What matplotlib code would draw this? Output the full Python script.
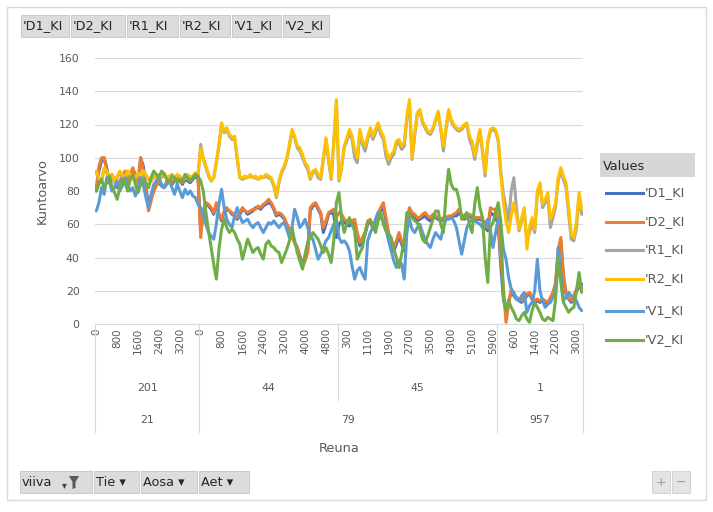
import matplotlib
matplotlib.use('Agg')
import matplotlib.pyplot as plt
import matplotlib.transforms as mtransforms
from matplotlib.patches import Rectangle, Polygon

W, H = 713, 512

# pivot axis fields: Aet > Tie > Reuna
tie = ['201', '44', '45', '1']
aet = ['21', '79', '957']
aet_span = [1, 2, 1]  # number of Tie groups under each Aet
reuna = [list(range(0, 4000, 100)), list(range(0, 5300, 100)),
         list(range(0, 6100, 100)), list(range(0, 3300, 100))]

series_names = ["'D1_KI", "'D2_KI", "'R1_KI", "'R2_KI", "'V1_KI", "'V2_KI"]
colors = ['#4472C4', '#ED7D31', '#A5A5A5', '#FFC000', '#5B9BD5', '#70AD47']

d1_ki = [80, 92, 98, 100, 94, 85, 88, 86, 82, 85, 88, 90, 86, 89, 93, 90, 86, 100, 95, 82,
         72, 76, 80, 84, 85, 83, 82, 85, 87, 84, 86, 88, 86, 84, 87, 86, 85, 87, 89, 87,
         56, 66, 72, 71, 69, 66, 72, 66, 62, 67, 69, 68, 66, 65, 63, 66, 69, 68, 66, 67,
         68, 70, 70, 69, 71, 72, 73, 72, 69, 65, 66, 65, 63, 60, 57, 53, 49, 46, 41, 36,
         40, 44, 68, 71, 72, 69, 66, 55, 60, 66, 67, 66, 52,
         60, 62, 61, 60, 59, 60, 61, 53, 47, 50, 54, 60, 62, 57, 61, 65, 68, 70, 62, 53,
         48, 44, 48, 53, 48, 44, 60, 67, 65, 64, 62, 63, 64, 65, 63, 62, 64, 64, 63, 62,
         63, 63, 64, 64, 65, 65, 67, 65, 63, 64, 65, 64, 63, 63, 63, 62, 58, 56, 67, 66, 64,
         60, 35, 15, 8, 14, 19, 17, 15, 14, 13, 15, 17, 18, 15, 13, 14, 13, 14, 13, 12,
         15, 18, 24, 43, 50, 28, 18, 15, 13, 16, 20, 22, 24]
d2_ki = [82, 95, 100, 100, 92, 86, 90, 87, 83, 86, 89, 92, 86, 90, 94, 88, 85, 100, 92, 80,
         68, 74, 80, 83, 86, 84, 82, 86, 88, 85, 87, 89, 86, 85, 88, 87, 86, 88, 90, 88,
         52, 68, 73, 72, 70, 67, 73, 66, 63, 68, 70, 68, 67, 65, 64, 67, 70, 68, 67, 68,
         69, 69, 71, 70, 72, 73, 75, 73, 70, 66, 67, 66, 64, 60, 57, 52, 49, 46, 40, 34,
         38, 43, 70, 72, 73, 70, 67, 58, 62, 67, 68, 69, 64,
         67, 66, 63, 62, 61, 62, 63, 55, 49, 52, 55, 62, 63, 58, 62, 67, 70, 73, 64, 55,
         50, 46, 50, 55, 50, 46, 62, 70, 67, 66, 64, 64, 66, 67, 65, 64, 66, 65, 64, 63,
         64, 64, 65, 65, 66, 67, 69, 66, 64, 65, 66, 65, 64, 64, 64, 63, 60, 58, 70, 69, 69,
         63, 40, 22, 1, 12, 21, 18, 16, 15, 14, 16, 18, 19, 16, 14, 15, 14, 15, 14, 13,
         16, 19, 25, 45, 52, 30, 19, 16, 14, 17, 21, 24, 22]
r1_ki = [91, 87, 86, 93, 91, 88, 89, 86, 88, 91, 89, 88, 91, 89, 87, 88, 90, 88, 91, 89,
         87, 86, 88, 88, 89, 88, 90, 88, 88, 89, 88, 89, 88, 87, 88, 89, 88, 89, 90, 89,
         108, 99, 94, 89, 86, 88, 97, 107, 120, 115, 117, 113, 111, 112, 99, 88, 87, 88, 88, 89,
         88, 88, 87, 88, 88, 89, 88, 87, 83, 76, 85, 91, 94, 99, 107, 116, 112, 106, 104, 100,
         96, 93, 87, 91, 92, 88, 87, 99, 111, 98, 87, 109, 133,
         86, 94, 106, 110, 115, 111, 100, 97, 115, 108, 104, 111, 116, 111, 115, 120, 114, 111, 101, 96,
         100, 102, 108, 109, 105, 107, 123, 133, 99, 113, 126, 128, 121, 118, 115, 114, 117, 122, 127, 117,
         104, 117, 128, 122, 119, 117, 116, 117, 119, 120, 111, 107, 99, 108, 116, 103, 89, 109, 116, 117, 116,
         110, 92, 78, 70, 62, 80, 88, 70, 56, 62, 68, 50, 55, 61, 55, 78, 84, 70, 73, 77,
         58, 64, 71, 86, 92, 87, 82, 66, 51, 50, 58, 77, 66]
r2_ki = [92, 88, 86, 94, 92, 88, 90, 86, 89, 92, 90, 88, 92, 90, 87, 88, 91, 89, 92, 90,
         87, 86, 89, 88, 90, 89, 91, 88, 89, 90, 88, 90, 89, 87, 88, 90, 88, 89, 91, 90,
         106, 100, 95, 90, 86, 88, 98, 108, 121, 116, 118, 114, 112, 113, 100, 88, 88, 89, 88, 90,
         88, 89, 87, 89, 88, 90, 89, 88, 84, 77, 86, 92, 95, 100, 108, 117, 113, 107, 106, 102,
         97, 95, 88, 92, 93, 90, 88, 100, 112, 100, 88, 110, 135,
         87, 95, 107, 112, 117, 113, 105, 100, 117, 110, 107, 113, 118, 113, 117, 121, 116, 113, 105, 99,
         102, 104, 110, 111, 107, 109, 125, 135, 100, 115, 127, 129, 122, 119, 116, 115, 118, 123, 128, 118,
         107, 118, 129, 123, 120, 118, 117, 118, 120, 121, 113, 110, 101, 110, 117, 105, 91, 110, 117, 118, 117,
         111, 90, 73, 62, 55, 65, 73, 65, 57, 64, 70, 45, 58, 64, 57, 80, 85, 72, 75, 79,
         63, 67, 73, 88, 94, 89, 85, 70, 54, 52, 62, 79, 69]
v1_ki = [68, 73, 82, 78, 88, 86, 80, 82, 86, 80, 83, 88, 84, 80, 82, 77, 82, 88, 84, 76,
         70, 78, 84, 86, 88, 84, 82, 84, 86, 82, 78, 84, 80, 76, 81, 78, 80, 77, 76, 72,
         70, 66, 60, 55, 53, 51, 60, 72, 81, 70, 63, 60, 58, 65, 70, 65, 61, 62, 63, 60,
         58, 60, 61, 58, 55, 58, 61, 60, 62, 60, 58, 60, 61, 57, 52, 58, 69, 64, 58, 60,
         63, 58, 53, 51, 45, 39, 42, 46, 50, 52, 56, 60, 63,
         52, 49, 50, 48, 44, 35, 27, 32, 34, 30, 27, 50, 55, 58, 63, 67, 64, 62, 57, 50,
         44, 38, 34, 38, 36, 27, 55, 63, 57, 55, 58, 60, 55, 51, 48, 46, 51, 55, 53, 51,
         58, 63, 63, 64, 62, 58, 50, 42, 50, 58, 61, 63, 62, 61, 60, 58, 60, 63, 57, 46, 55,
         63, 60, 45, 39, 28, 21, 19, 15, 14, 17, 19, 7, 11, 13, 20, 39, 20, 14, 10, 12,
         13, 16, 19, 46, 30, 14, 16, 19, 17, 16, 14, 10, 8]
v2_ki = [80, 84, 87, 82, 85, 89, 83, 79, 75, 82, 87, 85, 80, 87, 90, 84, 79, 84, 87, 85,
         82, 88, 92, 90, 88, 92, 90, 87, 85, 89, 88, 85, 87, 86, 90, 88, 86, 88, 90, 89,
         86, 80, 67, 56, 46, 36, 27, 45, 57, 63, 58, 55, 57, 55, 51, 48, 39, 45, 51, 47,
         43, 45, 46, 42, 39, 48, 50, 47, 46, 44, 43, 37, 41, 45, 50, 58, 50, 43, 38, 33,
         42, 49, 52, 55, 53, 51, 47, 43, 46, 42, 37, 50, 73,
         79, 63, 55, 60, 64, 60, 56, 39, 43, 46, 55, 61, 62, 60, 55, 62, 67, 60, 56, 54,
         52, 45, 40, 34, 42, 50, 67, 66, 64, 62, 61, 57, 51, 49, 53, 58, 63, 68, 68, 60,
         55, 78, 93, 84, 81, 81, 75, 63, 65, 67, 60, 55, 72, 82, 70, 64, 40, 25, 58, 61, 67,
         73, 62, 16, 8, 14, 10, 7, 3, 2, 5, 7, 3, 1, 8, 13, 10, 7, 3, 2, 4,
         3, 2, 15, 40, 25, 13, 10, 7, 9, 10, 20, 31, 19]

series = [d1_ki, d2_ki, r1_ki, r2_ki, v1_ki, v2_ki]

TXT = '#595959'
GRID = '#d9d9d9'
plt.rcParams['font.family'] = ['DejaVu Sans']
FS_TICK = 7.8
FS_LBL = 9.3


def fx(px):
    return px / W


def fy(py):
    return 1 - py / H


fig = plt.figure(figsize=(W / 100, H / 100), dpi=100)
fig.patch.set_facecolor('white')

# outer chart border
fig.patches.append(Rectangle((fx(7), fy(500)), fx(699), 493 / H, transform=fig.transFigure,
                             fill=False, edgecolor=GRID, lw=1))

ax = fig.add_axes([fx(95), fy(324), fx(488), 266 / H])
labels = [str(v) for grp in reuna for v in grp]
n = len(labels)
x = list(range(n))
for s, c in zip(series, colors):
    ax.plot(x, s, color=c, lw=2.2, solid_joinstyle='round', solid_capstyle='round')

ax.set_xlim(-0.5, n - 0.5)
ax.set_ylim(0, 160)
ax.set_yticks(range(0, 161, 20))
ax.yaxis.grid(True, color=GRID, lw=0.8)
ax.set_axisbelow(True)
for side in ['top', 'right', 'left']:
    ax.spines[side].set_visible(False)
ax.spines['bottom'].set_color(GRID)
ax.set_xticks(x[::8])
ax.set_xticklabels(labels[::8], rotation=90)
ax.tick_params(axis='x', length=0, pad=3, labelsize=7.5, labelcolor=TXT)
ax.tick_params(axis='y', length=0, pad=11, labelsize=FS_TICK, labelcolor=TXT)

# multi-level category axis
tr = mtransforms.blended_transform_factory(ax.transData, fig.transFigure)
sizes = [len(g) for g in reuna]
bounds = [-0.5]
for sz in sizes:
    bounds.append(bounds[-1] + sz)
aet_bounds = [0]
for sp in aet_span:
    aet_bounds.append(aet_bounds[-1] + sp)
for k, b in enumerate(bounds):
    bottom = 432 if k in aet_bounds else 400
    ax.plot([b, b], [fy(324), fy(bottom)], transform=tr, color=GRID, lw=0.8, clip_on=False)
for k, name in enumerate(tie):
    ax.text((bounds[k] + bounds[k + 1]) / 2, fy(388), name, transform=tr, ha='center',
            va='center', fontsize=FS_TICK, color=TXT)
for k, name in enumerate(aet):
    lo, hi = bounds[aet_bounds[k]], bounds[aet_bounds[k + 1]]
    ax.text((lo + hi) / 2, fy(420), name, transform=tr, ha='center', va='center',
            fontsize=FS_TICK, color=TXT)

fig.text(fx(339), fy(449), 'Reuna', ha='center', va='center', fontsize=FS_LBL, color=TXT)
fig.text(fx(42), fy(191), 'Kuntoarvo', ha='center', va='center', rotation=90,
         fontsize=FS_LBL, color=TXT)


def button(x0, y0, x1, y1, label, fs=FS_LBL):
    fig.patches.append(Rectangle((fx(x0), fy(y1)), fx(x1 - x0), (y1 - y0) / H,
                                 transform=fig.transFigure, facecolor='#dcdcdc',
                                 edgecolor='#c4c4c4', lw=0.6))
    fig.text(fx(x0 + 2), fy((y0 + y1) / 2), label, ha='left', va='center',
             fontsize=fs, color='#262626')


# value field buttons
btn_x = [(21, 69), (71, 125), (127, 178), (180, 230), (232, 281), (283, 329)]
for (x0, x1), name in zip(btn_x, series_names):
    button(x0, 15, x1, 37, name)

# legend
fig.patches.append(Rectangle((fx(600), fy(177)), fx(95), 24 / H, transform=fig.transFigure,
                             facecolor='#d6d6d6', edgecolor='none'))
fig.text(fx(603), fy(166), 'Values', ha='left', va='center', fontsize=FS_LBL, color='#262626')
leg_y = [193, 222, 250, 279, 311, 340]
for yy, name, c in zip(leg_y, series_names, colors):
    fig.lines.append(plt.Line2D([fx(606), fx(643)], [fy(yy), fy(yy)], transform=fig.transFigure,
                                color=c, lw=2.2))
    fig.text(fx(645), fy(yy), name, ha='left', va='center', fontsize=FS_LBL, color=TXT)

# axis field buttons
button(20, 471, 92, 493, 'viiva')
fig.text(fx(64), fy(485), '\u25be', ha='center', va='center', fontsize=7, color='#404040')
fig.patches.append(Polygon([(fx(69), fy(476)), (fx(79), fy(476)), (fx(75.5), fy(482)),
                            (fx(75.5), fy(488)), (fx(72.5), fy(489)), (fx(72.5), fy(482))],
                           closed=True, transform=fig.transFigure, facecolor='#595959'))
for (x0, x1), name in zip([(94, 139), (141, 197), (199, 249)], ['Tie', 'Aosa', 'Aet']):
    button(x0, 471, x1, 493, name + ' \u25be')

# zoom buttons
for x0, sym in [(652, '+'), (672, '\u2212')]:
    fig.patches.append(Rectangle((fx(x0), fy(493)), fx(18), 22 / H, transform=fig.transFigure,
                                 facecolor='#e4e4e4', edgecolor='#d0d0d0', lw=0.6))
    fig.text(fx(x0 + 9), fy(482), sym, ha='center', va='center', fontsize=9, color='#9a9a9a')

fig.savefig('out.png', dpi=100)
